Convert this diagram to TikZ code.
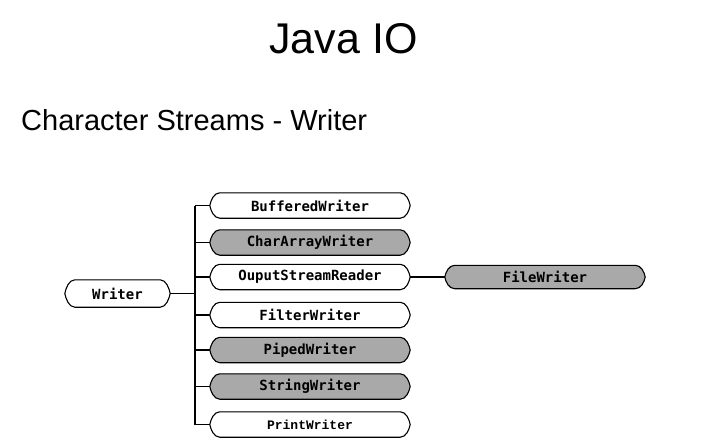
\documentclass[tikz,border=0pt]{standalone}
\usepackage{fontspec}
\setmainfont{Liberation Sans}
\newfontfamily\boxfont{DejaVu Sans Mono}
\newfontfamily\printfont{Liberation Mono}
\usetikzlibrary{calc,backgrounds}
\definecolor{boxgray}{HTML}{A9A9A9}
\definecolor{shadowc}{HTML}{555555}
\newcommand\bubpath[1]{($(#1.north west)+(10,0)$) -- ($(#1.north east)+(-10,0)$)
  .. controls ($(#1.north east)+(-4,0)$) and ($(#1.east)+(-1,5)$) .. (#1.east)
  .. controls ($(#1.east)+(-1,-5)$) and ($(#1.south east)+(-4,0)$) .. ($(#1.south east)+(-10,0)$)
  -- ($(#1.south west)+(10,0)$)
  .. controls ($(#1.south west)+(4,0)$) and ($(#1.west)+(1,-5)$) .. (#1.west)
  .. controls ($(#1.west)+(1,5)$) and ($(#1.north west)+(4,0)$) .. cycle}
\newcommand\bubble[2]{%
  \begin{scope}[on background layer]
    \fill[shadowc,shift={(3,-3)}] \bubpath{#1};
    \draw[line width=1.1pt,fill=#2] \bubpath{#1};
  \end{scope}}
\begin{document}
\begin{tikzpicture}[x=1pt,y=1pt,
  cls/.style={inner sep=0pt,minimum width=200pt,minimum height=25pt,font=\boxfont\bfseries\fontsize{14}{16}\selectfont},
  conn/.style={line width=1.1pt}]
\begin{scope}[on background layer]
\fill[white] (0,0) rectangle (705,-442);
\end{scope}
\useasboundingbox (0,0) rectangle (705,-442);
\node[anchor=base,font=\fontsize{43}{50}\selectfont,inner sep=0pt] (title) at (343.5,-53) {Java IO};
\node[anchor=base west,font=\fontsize{29}{34}\selectfont,inner sep=0pt] (sub) at (21,-130) {Character Streams - Writer};

\node[cls,minimum width=105pt,minimum height=27pt] (w) at (117.5,-293.5) {Writer};
\node[cls] (b1) at (310,-205.5) {BufferedWriter};
\node[cls] (b2) at (310,-242.5) {CharArrayWriter};
\node[cls] (b3) at (310,-277) {OuputStreamReader};
\node[cls] (b4) at (310,-315) {FilterWriter};
\node[cls] (b5) at (310,-350) {PipedWriter};
\node[cls] (b6) at (310,-386.5) {StringWriter};
\node[cls,font=\printfont\bfseries\fontsize{13}{15}\selectfont] (b7) at (310,-424.5) {PrintWriter};
\node[cls,minimum height=23pt] (fw) at (545,-277) {FileWriter};

\bubble{w}{white}
\bubble{b1}{white}
\bubble{b2}{boxgray}
\bubble{b3}{white}
\bubble{b4}{white}
\bubble{b5}{boxgray}
\bubble{b6}{boxgray}
\bubble{b7}{white}
\bubble{fw}{boxgray}

\coordinate (trunk) at (195,-293.5);
\draw[conn] (w.east) -- (trunk);
\draw[conn] (trunk |- b1.west) -- (trunk |- b7.west);
\foreach \b in {b1,b2,b3,b4,b5,b6,b7}{
  \draw[conn] (trunk |- \b.west) -- (\b.west);
}
\draw[conn] (b3.east) -- (fw.west);
\end{tikzpicture}
\end{document}
